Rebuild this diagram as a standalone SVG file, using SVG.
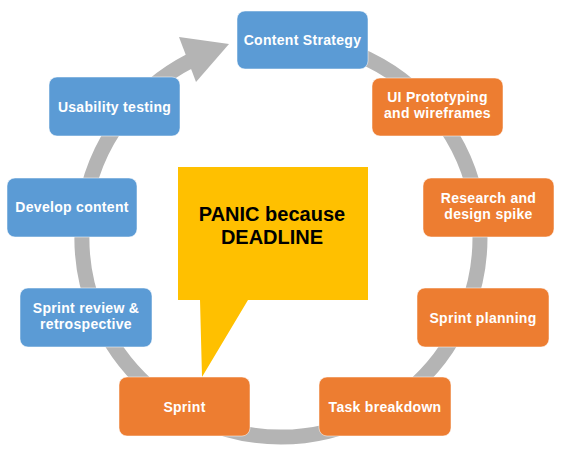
<svg xmlns="http://www.w3.org/2000/svg" width="561" height="453" viewBox="0 0 561 453">
<style>
.blue{fill:#5B9BD5;stroke:#ffffff;stroke-opacity:0.5;stroke-width:1}
.orange{fill:#ED7D31;stroke:#ffffff;stroke-opacity:0.5;stroke-width:1}
.lbl{font-family:"Liberation Sans",Arial,sans-serif;font-weight:bold;font-size:14px;fill:#ffffff;text-anchor:middle;letter-spacing:0.3px}
.panic{font-family:"Liberation Sans",Arial,sans-serif;font-weight:bold;font-size:20px;fill:#000000;text-anchor:middle}
</style>
<rect width="561" height="453" fill="#ffffff"/>
<g id="connectors">
<path d="M 281 39 A 199 199 0 1 1 190 61" fill="none" stroke="#B4B4B4" stroke-width="15"/>
<polygon points="179,37 229,44 196,82" fill="#B4B4B4"/>
</g>
<g id="callout">
<polygon points="178,167 368,167 368,300 248,300 202,377 200,300 178,300" fill="#FFC000"/>
<text class="panic" x="272" y="221">PANIC because</text>
<text class="panic" x="272" y="244">DEADLINE</text>
</g>
<g id="content-strategy">
<rect class="blue" x="237" y="11" width="131" height="58" rx="8"/>
<text class="lbl" x="302.5" y="45">Content Strategy</text>
</g>
<g id="ui-prototyping">
<rect class="orange" x="372" y="78" width="131" height="58" rx="8"/>
<text class="lbl" x="437.5" y="102">UI Prototyping</text>
<text class="lbl" x="437.5" y="118">and wireframes</text>
</g>
<g id="research">
<rect class="orange" x="423" y="178" width="131" height="59" rx="8"/>
<text class="lbl" x="488.5" y="203">Research and</text>
<text class="lbl" x="488.5" y="219">design spike</text>
</g>
<g id="sprint-planning">
<rect class="orange" x="417" y="288" width="132" height="59" rx="8"/>
<text class="lbl" x="483" y="323">Sprint planning</text>
</g>
<g id="task-breakdown">
<rect class="orange" x="319" y="377" width="132" height="59" rx="8"/>
<text class="lbl" x="385" y="412">Task breakdown</text>
</g>
<g id="sprint">
<rect class="orange" x="119" y="377" width="131" height="59" rx="8"/>
<text class="lbl" x="184.5" y="412">Sprint</text>
</g>
<g id="sprint-review">
<rect class="blue" x="20" y="288" width="132" height="59" rx="8"/>
<text class="lbl" x="86" y="313">Sprint review &amp;</text>
<text class="lbl" x="86" y="329">retrospective</text>
</g>
<g id="develop-content">
<rect class="blue" x="7" y="178" width="130" height="59" rx="8"/>
<text class="lbl" x="72" y="212">Develop content</text>
</g>
<g id="usability-testing">
<rect class="blue" x="49" y="77" width="131" height="59" rx="8"/>
<text class="lbl" x="114.5" y="112">Usability testing</text>
</g>
</svg>
